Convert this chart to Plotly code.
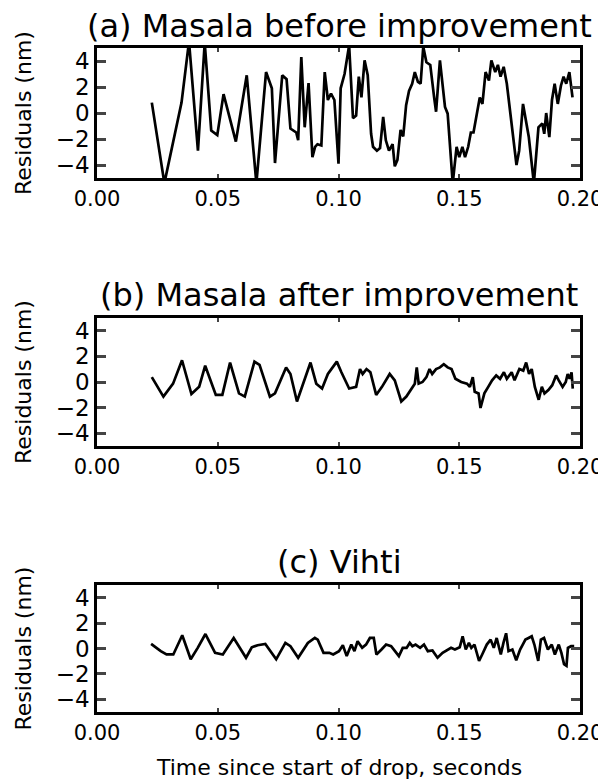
import plotly.graph_objects as go

# ---------------- data ----------------
t_a = [0.0227, 0.0279, 0.0350, 0.0381, 0.0418, 0.0446, 0.0473, 0.0498, 0.0524, 0.0575,
       0.0620, 0.0660, 0.0700, 0.0724, 0.0737, 0.0767, 0.0785, 0.0801, 0.0825, 0.0833,
       0.0846, 0.0860, 0.0876, 0.0892, 0.0903, 0.0913, 0.0929, 0.0943, 0.0956, 0.0969,
       0.0983, 0.1000, 0.1009, 0.1025, 0.1044, 0.1060, 0.1073, 0.1084, 0.1095, 0.1108,
       0.1121, 0.1135, 0.1143, 0.1159, 0.1172, 0.1185, 0.1196, 0.1209, 0.1224, 0.1233,
       0.1244, 0.1257, 0.1268, 0.1280, 0.1292, 0.1305, 0.1316, 0.1329, 0.1340, 0.1351,
       0.1364, 0.1380, 0.1396, 0.1404, 0.1420, 0.1441, 0.1452, 0.1473, 0.1489, 0.1500,
       0.1513, 0.1524, 0.1537, 0.1548, 0.1559, 0.1572, 0.1585, 0.1596, 0.1609, 0.1623,
       0.1633, 0.1649, 0.1660, 0.1671, 0.1684, 0.1697, 0.1713, 0.1737, 0.1748, 0.1764,
       0.1788, 0.1809, 0.1828, 0.1844, 0.1852, 0.1860, 0.1873, 0.1884, 0.1895, 0.1908,
       0.1921, 0.1932, 0.1943, 0.1956, 0.1969]
r_a = [0.8, -5.4, 0.8, 5.5, -2.9, 5.4, -1.35, -1.7, 1.45, -2.2,
       2.9, -5.4, 3.15, 1.9, -3.85, 2.9, 2.6, -1.2, -1.5, -2.1,
       4.3, -1.1, 2.3, -3.4, -2.6, -2.4, -2.5, 3.15, 1.0, 1.5,
       1.0, -3.9, 1.9, 3.0, 5.2, -0.4, -0.2, 2.8, 1.2, 4.05,
       2.9, -1.6, -2.6, -2.9, -2.7, -0.3, -2.1, -2.9, -2.4, -4.1,
       -3.6, -1.3, -1.8, 0.6, 1.7, 2.25, 3.15, 2.4, 2.25, 5.1,
       3.9, 3.7, 1.2, 0.1, 4.05, 0.46, -0.05, -5.4, -2.6, -3.4,
       -2.6, -3.4, -2.6, -1.5, -1.5, -0.05, 1.2, 0.7, 3.15, 2.5,
       4.05, 3.15, 3.7, 2.8, 3.55, 2.25, -0.2, -4.0, -2.9, 0.7,
       -1.85, -5.4, -1.1, -0.8, -1.6, 0.0, -1.85, 1.0, 2.25, 0.7,
       2.1, 2.8, 2.25, 3.15, 1.2]

t_b = [0.0227, 0.0275, 0.0315, 0.0352, 0.0391, 0.0423, 0.0448, 0.0492, 0.0519, 0.0551,
       0.0588, 0.0612, 0.0652, 0.0673, 0.0716, 0.0737, 0.0783, 0.0801, 0.0828, 0.0884,
       0.0908, 0.0932, 0.0956, 0.0993, 0.1012, 0.1044, 0.1073, 0.1089, 0.1100, 0.1116,
       0.1132, 0.1156, 0.1180, 0.1212, 0.1233, 0.1260, 0.1281, 0.1300, 0.1316, 0.1324,
       0.1332, 0.1348, 0.1364, 0.1377, 0.1388, 0.1404, 0.1420, 0.1436, 0.1452, 0.1468,
       0.1484, 0.1508, 0.1532, 0.1544, 0.1556, 0.1564, 0.1580, 0.1588, 0.1604, 0.1620,
       0.1636, 0.1653, 0.1669, 0.1685, 0.1697, 0.1717, 0.1729, 0.1749, 0.1765, 0.1777,
       0.1789, 0.1800, 0.1813, 0.1829, 0.1842, 0.1853, 0.1869, 0.1885, 0.1901, 0.1912,
       0.1928, 0.1941, 0.1949, 0.1957, 0.1965, 0.1970]
r_b = [0.38, -1.14, -0.13, 1.70, -0.94, -0.38, 1.27, -1.01, -1.01, 1.52,
       -0.89, -1.14, 1.59, 1.34, -1.14, -0.89, 1.14, 0.63, -1.52, 1.52,
       -0.13, -0.51, 0.63, 1.59, 0.76, -0.51, -0.38, 1.01, 0.63, 1.01,
       0.76, -1.01, -0.38, 0.63, 0.13, -1.52, -1.14, -0.63, -0.13, 1.14,
       -0.13, 0.0, 0.38, 1.01, 0.63, 1.01, 1.14, 1.39, 1.14, 1.01,
       0.25, 0.0, -0.13, -0.38, 0.38, -0.76, -0.89, -2.03, -0.89, -0.38,
       0.13, 0.51, 0.25, 0.76, 0.25, 0.76, 0.13, 1.01, 0.89, 1.52,
       0.63, 1.01, -0.38, -1.39, -0.38, -0.89, -0.63, -0.25, 0.51, 0.13,
       -0.38, 0.0, 0.63, 0.25, 0.76, -0.51]

t_c = [0.0224, 0.0264, 0.0288, 0.0316, 0.0353, 0.0388, 0.0417, 0.0449, 0.0489, 0.0521,
       0.0566, 0.0617, 0.0641, 0.0665, 0.0697, 0.0742, 0.0780, 0.0801, 0.0833, 0.0873,
       0.0902, 0.0914, 0.0938, 0.0962, 0.0978, 0.1002, 0.1018, 0.1034, 0.1053, 0.1066,
       0.1079, 0.1098, 0.1114, 0.1130, 0.1146, 0.1157, 0.1178, 0.1197, 0.1218, 0.1234,
       0.1250, 0.1266, 0.1282, 0.1295, 0.1306, 0.1319, 0.1338, 0.1354, 0.1370, 0.1389,
       0.1410, 0.1431, 0.1450, 0.1466, 0.1482, 0.1502, 0.1514, 0.1527, 0.1540, 0.1550,
       0.1563, 0.1582, 0.1595, 0.1614, 0.1630, 0.1643, 0.1655, 0.1672, 0.1683, 0.1694,
       0.1704, 0.1720, 0.1736, 0.1752, 0.1763, 0.1774, 0.1787, 0.1800, 0.1811, 0.1827,
       0.1838, 0.1851, 0.1867, 0.1883, 0.1896, 0.1912, 0.1923, 0.1934, 0.1944, 0.1950,
       0.1963, 0.1976]
r_c = [0.36, -0.21, -0.47, -0.47, 1.04, -0.85, 0.05, 1.14, -0.34, -0.47,
       0.83, -0.73, 0.10, 0.26, 0.36, -0.85, 0.44, 0.18, -0.73, 0.44,
       0.83, 0.70, -0.34, -0.34, -0.47, -0.21, 0.26, -0.60, 0.31, -0.21,
       0.57, 0.05, 0.31, 0.83, 0.83, -0.47, -0.08, 0.31, 0.18, -0.21,
       -0.60, 0.05, 0.05, 0.44, 0.18, 0.31, 0.05, 0.31, -0.21, -0.16,
       -0.73, -0.34, -0.16, 0.05, -0.08, 0.10, 0.96, -0.08, 0.44, 0.05,
       0.31, -0.98, -0.47, 0.31, 0.70, 0.05, 0.83, -0.47, 0.44, 1.20,
       -0.21, -0.08, -0.93, -0.08, 0.31, 0.70, 0.83, 0.96, 0.31, -0.98,
       0.70, 0.83, -0.08, 0.31, -0.47, 0.31, -0.34, -1.24, -1.37, 0.05,
       0.18, 0.18]

panel_titles = ["(a) Masala before improvement", "(b) Masala after improvement", "(c) Vihti"]
y_title = "Residuals (nm)"
x_title = "Time since start of drop, seconds"
x_ticks = [0.0, 0.05, 0.10, 0.15, 0.20]
y_ticks = [-4, -2, 0, 2, 4]

# ---------------- layout geometry ----------------
W, H = 606, 783
x_left, x_right = 89, 572
boxes = [(40, 170), (310, 438), (577, 704)]      # pixel top/bottom of each panel
title_y = [18, 287, 554]
title_x = 331
ytitle_x = 15
FONT = "DejaVu Sans"

def py(p):
    return 1 - p / H

fig = go.Figure()
series = [(t_a, r_a), (t_b, r_b), (t_c, r_c)]
for i, (tt, rr) in enumerate(series):
    sfx = "" if i == 0 else str(i + 1)
    fig.add_trace(go.Scatter(x=tt, y=rr, mode="lines",
                             line=dict(color="black", width=2.7),
                             xaxis="x" + sfx, yaxis="y" + sfx,
                             showlegend=False, cliponaxis=True))

layout = dict(width=W, height=H, margin=dict(l=0, r=0, t=0, b=0, autoexpand=False),
              paper_bgcolor="white", plot_bgcolor="white",
              font=dict(family=FONT, color="black"))
annotations = []
for i in range(3):
    sfx = "" if i == 0 else str(i + 1)
    top, bot = boxes[i]
    layout["xaxis" + sfx] = dict(
        domain=[x_left / W, x_right / W], anchor="y" + sfx, range=[0, 0.2],
        tickvals=x_ticks, tickformat=".2f", ticks="inside", ticklen=4, tickwidth=2,
        mirror="ticks", showline=True, linewidth=2.5, linecolor="black",
        showgrid=False, zeroline=False, tickfont=dict(size=21, family=FONT),
        automargin=False, ticklabeloverflow="allow", fixedrange=True)
    layout["yaxis" + sfx] = dict(
        domain=[py(bot), py(top)], anchor="x" + sfx, range=[-5, 5],
        tickvals=y_ticks, ticks="inside", ticklen=9, tickwidth=2.5,
        mirror="ticks", showline=True, linewidth=2.5, linecolor="black",
        showgrid=False, zeroline=False, tickfont=dict(size=23, family=FONT),
        automargin=False, ticklabeloverflow="allow", fixedrange=True)
    annotations.append(dict(text=panel_titles[i], xref="paper", yref="paper",
                            x=title_x / W, y=py(title_y[i]),
                            xanchor="center", yanchor="middle", showarrow=False,
                            font=dict(size=32, family=FONT)))
    annotations.append(dict(text=y_title, xref="paper", yref="paper",
                            x=ytitle_x / W, y=py((top + bot) / 2), textangle=-90,
                            xanchor="center", yanchor="middle", showarrow=False,
                            font=dict(size=22, family=FONT)))
annotations.append(dict(text=x_title, xref="paper", yref="paper",
                        x=(x_left + x_right) / 2 / W, y=py(759),
                        xanchor="center", yanchor="middle", showarrow=False,
                        font=dict(size=22, family=FONT)))
layout["annotations"] = annotations
fig.update_layout(**layout)
fig.write_html("out.html")
